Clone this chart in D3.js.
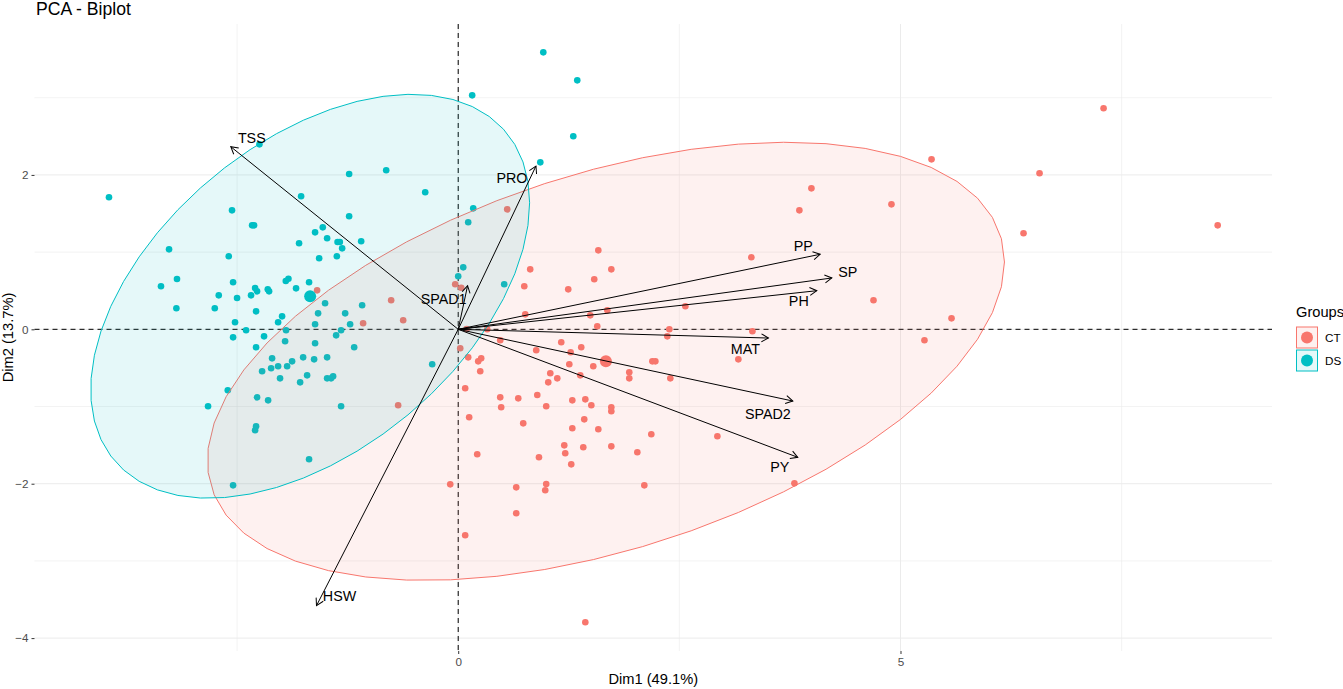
<!DOCTYPE html>
<html>
<head>
<meta charset="utf-8">
<script src="https://cdn.jsdelivr.net/npm/d3@7"></script>
<style>
  body { margin: 0; background: #fff; }
  svg { font-family: "Liberation Sans", Arial, sans-serif; display: block; }
  .grid-major { stroke: #ebebeb; stroke-width: 1; }
  .grid-minor { stroke: #ebebeb; stroke-width: 0.6; }
  .tick-label { fill: #4d4d4d; font-size: 11.7px; }
  .axis-title { fill: #000; font-size: 14.67px; }
  .var-label { fill: #000; font-size: 14.3px; }
</style>
</head>
<body>
<svg id="biplot"></svg>
<script>
const width = 1343, height = 689

// individuals, Dim1 / Dim2 coordinates
const dsDim1 = [-3.948, -2.247, -1.233, -0.814, -0.373, -1.776, -2.557, -2.330, -2.308, -1.233,
  -1.618, -1.531, -1.482, -1.799, -1.364, -1.338, -1.312, -1.097, -3.269, -2.594,
  -1.572, -1.372, -3.179, -3.360, -2.545, -1.919, -1.949, -1.686, -1.833, -2.707,
  -2.500, -2.342, -2.296, -2.274, -2.153, -2.138, -1.505, -3.186, -2.752, -2.285,
  -1.584, -1.278, -1.086, -1.991, -2.036, -2.523, -1.618, -1.222, -2.398, -1.946,
  -1.324, -1.380, -2.545, -2.195, -1.957, -1.618, -2.285, -1.176, -2.104, -1.753,
  -1.629, -1.482, -2.217, -2.115, -2.036, -1.934, -1.878, -2.014, -1.787, -1.708,
  -1.482, -1.437, -1.414, -0.294, -2.605, -2.274, -2.149, -2.828, -1.324, -2.285,
  -2.296, -1.686, -2.545, 0.962, 1.346, 0.158, 1.301, 0.928, 0.170, 0.113,
  0.057, 0.000, 0.520]
const dsDim2 = [1.710, 2.396, 2.012, 2.060, 1.775, 1.723, 1.541, 1.347, 1.347, 1.464,
  1.256, 1.321, 1.179, 1.114, 1.131, 1.131, 1.049, 1.140, 1.036, 0.946,
  0.920, 0.946, 0.652, 0.557, 0.609, 0.655, 0.626, 0.609, 0.531, 0.440,
  0.405, 0.440, 0.535, 0.492, 0.518, 0.492, 0.337, 0.272, 0.272, 0.233,
  0.207, 0.207, 0.311, 0.168, 0.091, 0.091, 0.065, 0.065, -0.013, -0.013,
  -0.013, -0.078, -0.104, -0.091, -0.155, -0.181, -0.233, -0.233, -0.376, -0.363,
  -0.389, -0.363, -0.544, -0.505, -0.479, -0.479, -0.415, -0.635, -0.687, -0.596,
  -0.635, -0.635, -0.609, -0.453, -0.790, -0.881, -0.920, -0.997, -0.997, -1.256,
  -1.308, -1.684, -2.021, 3.588, 3.225, 3.031, 2.500, 2.163, 1.567, 1.386,
  0.803, 0.687, 0.583]

const ctDim1 = [-1.595, -0.758, -0.622, -1.075, -0.679, -0.090, 0.554, 3.993, 3.857, 4.898,
  1.584, 0.814, 1.731, 1.538, 0.747, 1.244, 3.314, 2.568, 1.686, 1.493,
  0.758, 1.572, 2.387, 2.364, 3.326, 4.695, 0.328, 0.095, 0.475, 1.165,
  1.391, -0.034, 0.034, 0.023, 0.113, 0.226, 0.260, 0.249, 0.882, 1.271,
  1.256, 1.527, 2.195, 2.229, 1.041, 1.018, 1.120, 1.380, 1.934, 1.934,
  2.398, 3.167, 0.079, 0.475, 0.679, 0.894, 0.486, 0.995, 1.290, 1.437,
  1.505, 1.731, 1.731, 0.124, 0.735, 1.425, 1.290, 1.584, 2.183, 2.930,
  1.199, 1.210, 1.414, 1.731, 2.025, 0.215, 0.913, 1.278, 0.656, 0.995,
  0.984, 2.104, 3.801, 0.656, 0.079, 1.437, 7.296, 5.351, 6.572, 6.391,
  8.586, 5.577, 5.271]
const ctDim2 = [0.505, 0.376, 0.117, 0.078, -0.984, -2.008, 1.554, 1.826, 1.541, 1.619,
  1.023, 0.777, 0.777, 0.648, 0.557, 0.518, 0.933, 0.298, 0.246, 0.181,
  0.194, 0.039, 0.000, -0.091, -0.026, 0.376, 0.000, 0.004, -0.142, -0.168,
  -0.233, 0.583, 0.539, -0.246, -0.363, -0.415, -0.376, -0.544, -0.272, -0.298,
  -0.453, -0.479, -0.415, -0.415, -0.570, -0.687, -0.635, -0.596, -0.557, -0.635,
  -0.635, -0.389, -0.764, -0.881, -0.894, -0.851, -1.010, -0.997, -0.920, -0.907,
  -0.984, -1.010, -1.062, -1.140, -1.218, -1.166, -1.282, -1.295, -1.360, -1.386,
  -1.503, -1.606, -1.528, -1.516, -1.593, -1.619, -1.658, -1.749, -2.047, -2.004,
  -2.085, -2.021, -1.995, -2.383, -2.668, -3.795, 2.863, 2.202, 2.021, 1.244,
  1.347, 0.142, -0.142]

// variables (arrow ends)
const varNames = ['TSS', 'PRO', 'SPAD1', 'PP', 'SP', 'PH', 'MAT', 'SPAD2', 'PY', 'HSW']
const varDim1 = [-2.571, 0.879, 0.106, 4.092, 4.224, 4.054, 3.507, 3.783, 3.839, -1.602]
const varDim2 = [2.365, 2.115, 0.565, 0.972, 0.665, 0.500, -0.113, -0.929, -1.658, -3.580]

const groupNames = ['CT', 'DS']
const xMajor = [0, 5], xMinor = [-2.5, 2.5, 7.5]
const yMajor = [-4, -2, 0, 2], yMinor = [-3, -1, 1, 3]

// label placement, in pixels from the arrow end
const labelNudge = {
  TSS: [21, -9], PRO: [-24, 12], SPAD1: [-24, 13], PP: [-17, -8], SP: [16, -6],
  PH: [-18, 10], MAT: [-23, 11], SPAD2: [-25, 13], PY: [-18, 10], HSW: [23, -10]
}

const colors = { CT: '#F8766D', DS: '#00BFC4' }

const svg = d3.select('svg#biplot')
  .attr('width', width)
  .attr('height', height)
  .attr('viewBox', [0, 0, width, height])

const panel = { left: 34.5, right: 1272, top: 24, bottom: 651 }

const xScale = d3.scaleLinear().domain([-4.79, 9.20]).range([panel.left, panel.right])
const yScale = d3.scaleLinear().domain([-4.167, 3.955]).range([panel.bottom, panel.top])

const groups = [
  { name: 'CT', pts: ctDim1.map((d, i) => [d, ctDim2[i]]) },
  { name: 'DS', pts: dsDim1.map((d, i) => [d, dsDim2[i]]) }
]

// 95% normal ellipse, same recipe as stat_ellipse(type = 'norm')
const fQuantile95 = 3.095 // qf(0.95, 2, n - 1) for n about 93
const ellipse = pts => {
  const n = pts.length
  const mx = d3.mean(pts, d => d[0]), my = d3.mean(pts, d => d[1])
  let sxx = 0, syy = 0, sxy = 0
  pts.forEach(([a, b]) => {
    sxx += (a - mx) ** 2; syy += (b - my) ** 2; sxy += (a - mx) * (b - my)
  })
  sxx /= n - 1; syy /= n - 1; sxy /= n - 1
  const r11 = Math.sqrt(sxx), r12 = sxy / r11, r22 = Math.sqrt(syy - r12 * r12)
  const radius = Math.sqrt(2 * fQuantile95)
  return d3.range(52).map(i => {
    const t = (i / 51) * 2 * Math.PI
    const c = Math.cos(t), s = Math.sin(t)
    return [mx + radius * c * r11, my + radius * (c * r12 + s * r22)]
  })
}

const g = svg.append('g')

// grid
g.selectAll('.gx-minor').data(xMinor).enter().append('line')
  .attr('class', 'grid-minor')
  .attr('x1', d => xScale(d)).attr('x2', d => xScale(d))
  .attr('y1', panel.top).attr('y2', panel.bottom)
g.selectAll('.gy-minor').data(yMinor).enter().append('line')
  .attr('class', 'grid-minor')
  .attr('y1', d => yScale(d)).attr('y2', d => yScale(d))
  .attr('x1', panel.left).attr('x2', panel.right)
g.selectAll('.gx-major').data(xMajor).enter().append('line')
  .attr('class', 'grid-major')
  .attr('x1', d => xScale(d)).attr('x2', d => xScale(d))
  .attr('y1', panel.top).attr('y2', panel.bottom)
g.selectAll('.gy-major').data(yMajor).enter().append('line')
  .attr('class', 'grid-major')
  .attr('y1', d => yScale(d)).attr('y2', d => yScale(d))
  .attr('x1', panel.left).attr('x2', panel.right)

// axes: ticks and labels
const xAxis = d3.axisBottom(xScale).tickValues(xMajor).tickSize(3).tickPadding(4)
const yAxis = d3.axisLeft(yScale).tickValues(yMajor).tickSize(3).tickPadding(3)

const xAxisG = g.append('g')
  .attr('transform', `translate(0, ${panel.bottom})`)
  .call(xAxis)
const yAxisG = g.append('g')
  .attr('transform', `translate(${panel.left}, 0)`)
  .call(yAxis)
;[xAxisG, yAxisG].forEach(a => {
  a.select('.domain').remove()
  a.selectAll('.tick line').attr('stroke', '#333').attr('stroke-width', 1)
  a.selectAll('.tick text').attr('class', 'tick-label').attr('font-family', null).attr('font-size', null)
})

// zero lines
g.append('line')
  .attr('x1', panel.left).attr('x2', panel.right)
  .attr('y1', yScale(0)).attr('y2', yScale(0))
  .attr('stroke', '#000').attr('stroke-dasharray', '5,4')
g.append('line')
  .attr('x1', xScale(0)).attr('x2', xScale(0))
  .attr('y1', panel.top).attr('y2', panel.bottom)
  .attr('stroke', '#000').attr('stroke-dasharray', '5,4')

// individuals
groups.forEach(grp => {
  g.append('g').selectAll('circle').data(grp.pts).enter().append('circle')
    .attr('cx', d => xScale(d[0]))
    .attr('cy', d => yScale(d[1]))
    .attr('r', 3.3)
    .attr('fill', colors[grp.name])
})

// ellipses
const ellLine = d3.line().x(d => xScale(d[0])).y(d => yScale(d[1]))
groups.forEach(grp => {
  g.append('path')
    .attr('d', ellLine(ellipse(grp.pts)) + 'Z')
    .attr('fill', colors[grp.name])
    .attr('fill-opacity', 0.1)
    .attr('stroke', colors[grp.name])
    .attr('stroke-width', 1)
})

// group means
groups.forEach(grp => {
  g.append('circle')
    .attr('cx', xScale(d3.mean(grp.pts, d => d[0])))
    .attr('cy', yScale(d3.mean(grp.pts, d => d[1])))
    .attr('r', 6)
    .attr('fill', colors[grp.name])
})

// variable arrows
svg.append('defs').append('marker')
  .attr('id', 'arrowhead')
  .attr('viewBox', '-8 -5 10 10')
  .attr('refX', 0).attr('refY', 0)
  .attr('markerWidth', 10).attr('markerHeight', 10)
  .attr('markerUnits', 'userSpaceOnUse')
  .attr('orient', 'auto')
  .append('path')
  .attr('d', 'M-7,-4L0,0L-7,4')
  .attr('fill', 'none')
  .attr('stroke', '#000')
  .attr('stroke-width', 1)

const vars = varNames.map((name, i) => ({ name, x: varDim1[i], y: varDim2[i] }))

g.selectAll('.var-arrow').data(vars).enter().append('line')
  .attr('class', 'var-arrow')
  .attr('x1', xScale(0)).attr('y1', yScale(0))
  .attr('x2', d => xScale(d.x)).attr('y2', d => yScale(d.y))
  .attr('stroke', '#000')
  .attr('stroke-width', 1)
  .attr('marker-end', 'url(#arrowhead)')

g.selectAll('.var-label').data(vars).enter().append('text')
  .attr('class', 'var-label')
  .attr('x', d => xScale(d.x) + labelNudge[d.name][0])
  .attr('y', d => yScale(d.y) + labelNudge[d.name][1])
  .attr('text-anchor', 'middle')
  .attr('dy', '0.35em')
  .text(d => d.name)

// titles
svg.append('text')
  .attr('x', 36).attr('y', 15)
  .attr('font-size', '17.6px')
  .text('PCA - Biplot')

svg.append('text')
  .attr('class', 'axis-title')
  .attr('x', (panel.left + panel.right) / 2).attr('y', 684)
  .attr('text-anchor', 'middle')
  .text('Dim1 (49.1%)')

svg.append('text')
  .attr('class', 'axis-title')
  .attr('transform', `translate(12.5, ${(panel.top + panel.bottom) / 2}) rotate(-90)`)
  .attr('text-anchor', 'middle')
  .text('Dim2 (13.7%)')

// legend
const legend = svg.append('g').attr('transform', 'translate(1296, 317)')
legend.append('text')
  .attr('class', 'axis-title')
  .attr('x', 0).attr('y', 0)
  .text('Groups')

const keys = legend.selectAll('.key').data(groupNames).enter().append('g')
  .attr('transform', (d, i) => `translate(0, ${9.5 + i * 23})`)
keys.append('rect')
  .attr('x', 0.5).attr('y', 0.5)
  .attr('width', 21).attr('height', 21)
  .attr('fill', d => colors[d]).attr('fill-opacity', 0.1)
  .attr('stroke', d => colors[d])
keys.append('circle')
  .attr('cx', 11).attr('cy', 11).attr('r', 6)
  .attr('fill', d => colors[d])
keys.append('text')
  .attr('class', 'tick-label')
  .attr('x', 29).attr('y', 11).attr('dy', '0.35em')
  .style('fill', '#000')
  .text(d => d)
</script>
</body>
</html>
